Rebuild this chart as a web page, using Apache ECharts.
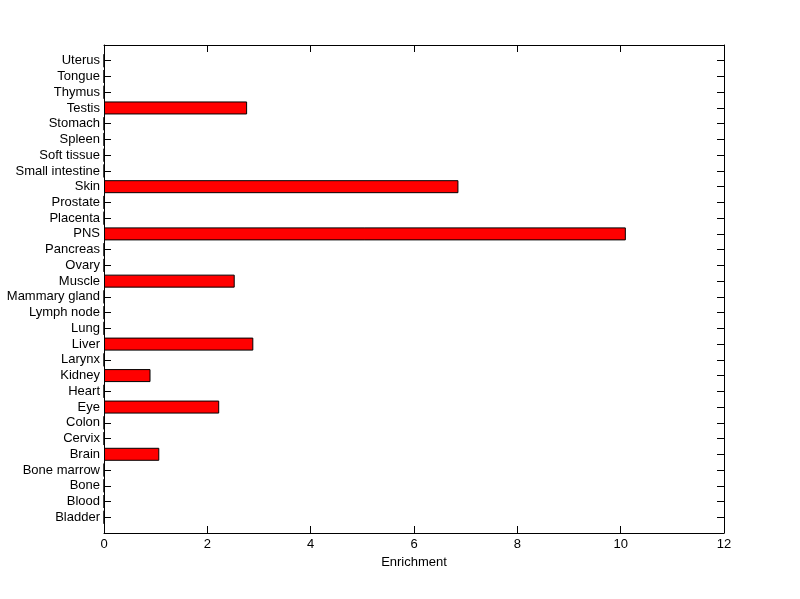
<!DOCTYPE html>
<html>
<head>
<meta charset="utf-8">
<script src="https://cdn.jsdelivr.net/npm/echarts@6/dist/echarts.min.js"></script>
<style>html,body{margin:0;padding:0;background:#fff;}#c{width:800px;height:599px;}</style>
</head>
<body>
<div id="c"></div>
<script>
const categories = ['Bladder','Blood','Bone','Bone marrow','Brain','Cervix','Colon','Eye','Heart','Kidney','Larynx','Liver','Lung','Lymph node','Mammary gland','Muscle','Ovary','Pancreas','PNS','Placenta','Prostate','Skin','Small intestine','Soft tissue','Spleen','Stomach','Testis','Thymus','Tongue','Uterus'];
const enrichment = [0,0,0,0,1.07,0,0,2.23,0,0.90,0,2.89,0,0,0,2.53,0,0,10.10,0,0,6.86,0,0,0,0,2.77,0,0,0];
const xTicks = [0,2,4,6,8,10,12];

// pad with blank end slots so categories sit at 1..30 on a 0..31 range
const yCats = [''].concat(categories, ['']);
const yVals = [null].concat(enrichment, [null]);

const font = 'Liberation Sans, Arial, Helvetica, sans-serif';
const lineStyle = {color:'#000', width:1};
const chart = echarts.init(document.getElementById('c'), null, {renderer:'canvas'});
const yAxisBase = {
  type:'category', data:yCats, boundaryGap:false,
  axisLine:{show:true, onZero:false, lineStyle},
  axisTick:{show:true, inside:true, length:7, interval:0, lineStyle},
  splitLine:{show:false}
};
const xAxisBase = {
  type:'value', min:0, max:12, interval:2,
  axisLine:{show:true, onZero:false, lineStyle},
  axisTick:{show:true, inside:true, length:7, lineStyle},
  splitLine:{show:false}
};
chart.setOption({
  animation:false,
  backgroundColor:'#fff',
  grid:{left:104, right:76, top:45, bottom:66, containLabel:false},
  xAxis:[
    Object.assign({}, xAxisBase, {position:'bottom',
      name:'Enrichment', nameLocation:'middle', nameGap:22,
      nameTextStyle:{color:'#000', fontSize:13, fontFamily:font},
      axisLabel:{show:true, color:'#000', fontSize:13, fontFamily:font, margin:5,
        formatter: v => xTicks.indexOf(v) >= 0 ? String(v) : ''}}),
    Object.assign({}, xAxisBase, {position:'top', axisLabel:{show:false}})
  ],
  yAxis:[
    Object.assign({}, yAxisBase, {position:'left',
      axisLabel:{show:true, interval:0, color:'#000', fontSize:13, fontFamily:font, margin:4}}),
    Object.assign({}, yAxisBase, {position:'right', axisLabel:{show:false}})
  ],
  series:[{
    type:'bar', xAxisIndex:0, yAxisIndex:0, data:yVals, barWidth:13,
    itemStyle:{color:'#ff0000', borderColor:'#000', borderWidth:1},
    silent:true
  }]
});
</script>
</body>
</html>
